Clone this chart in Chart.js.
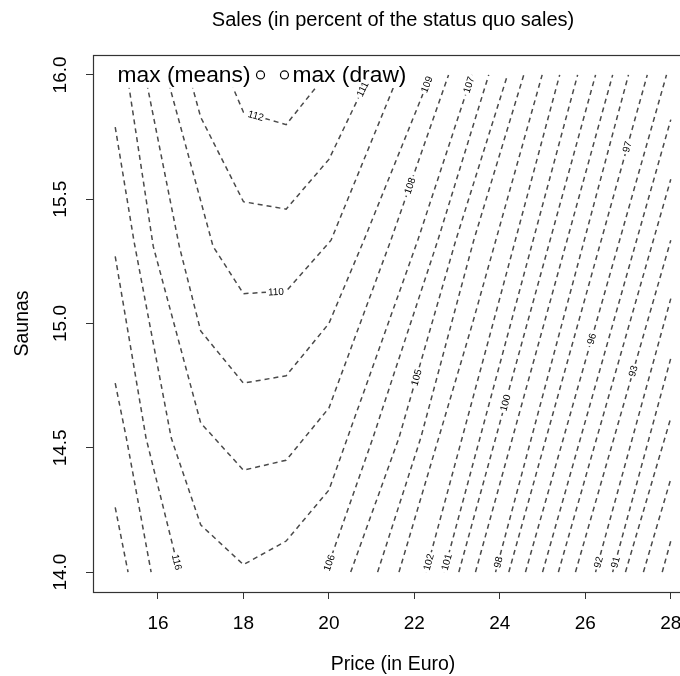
<!DOCTYPE html>
<html lang="en">
<head>
<meta charset="UTF-8">
<title>Sales contour</title>
<script src="https://cdn.jsdelivr.net/npm/chart.js@4.4.1/dist/chart.umd.min.js"></script>
<style>
  html, body { margin: 0; padding: 0; background: #fff; overflow: hidden; }
  #wrap { width: 720px; height: 676px; }
</style>
</head>
<body>
<div id="wrap"><canvas id="contour" width="720" height="676"></canvas></div>
<script>
// axis ticks
const priceTicks = [16, 18, 20, 22, 24, 26, 28];
const saunaTicks = [14.0, 14.5, 15.0, 15.5, 16.0];

// contour lines: price (x) / saunas (y) along each line
const x112 = [17.63, 18, 19, 19.93];
const y112 = [16, 15.85, 15.80, 16];
const x111 = [16.73, 17, 18, 19, 20, 20.95];
const y111 = [16, 15.83, 15.49, 15.46, 15.66, 16];
const x110 = [16.2, 17.29, 18, 19, 20.05, 21.63];
const y110 = [16, 15.31, 15.12, 15.13, 15.335, 16];
const x109 = [15.7, 16.5, 17, 18, 19, 20, 20.82, 22.38];
const y109 = [16, 15.31, 14.97, 14.76, 14.79, 15.0, 15.335, 16];
const x108 = [15.28, 15.89, 17, 18, 19, 20, 21.45, 22.8];
const y108 = [16, 15.31, 14.6, 14.41, 14.45, 14.66, 15.335, 16];
const x107 = [15, 15.44, 16.31, 17, 18, 19, 20, 22.08, 23.35];
const y107 = [15.79, 15.33, 14.54, 14.19, 14.03, 14.125, 14.33, 15.335, 16];
const x106a = [15, 15.72, 16.5];
const y106a = [15.27, 14.54, 14];
const x106b = [19.93, 21.03, 22.55, 23.74];
const y106b = [14, 14.54, 15.335, 16];
const x105a = [15, 15.26, 15.84];
const y105a = [14.76, 14.54, 14];
const x105b = [20.51, 21.64, 22.97, 24.18];
const y105b = [14, 14.54, 15.335, 16];
const x104a = [15, 15.3];
const y104a = [14.26, 14];
const x104b = [21.14, 22.15, 23.39, 24.56];
const y104b = [14, 14.54, 15.335, 16];
const x103 = [21.64, 23.36, 24.99];
const y103 = [14, 15, 16];
const x102 = [22.27, 23.84, 25.4];
const y102 = [14, 15, 16];
const x101 = [22.69, 25.82];
const x100 = [23.04, 26.24];
const x99 = [23.43, 26.64];
const x98 = [23.9, 27.01];
const x97 = [24.21, 27.45];
const x96 = [24.6, 27.9];
const yFull = [14, 16];
const x95 = [25.0, 28];
const y95 = [14, 15.82];
const x94 = [25.37, 28];
const y94 = [14, 15.58];
const x93 = [25.77, 28];
const y93 = [14, 15.335];
const x92 = [26.24, 28];
const y92 = [14, 15.1];
const x91 = [26.64, 28];
const y91 = [14, 14.86];
const x90 = [26.94, 28];
const y90 = [14, 14.62];
const x89 = [27.36, 28];
const y89 = [14, 14.375];
const x88 = [27.8, 28];
const y88 = [14, 14.125];

// contour labels and roughly where they sit
const labelText = ['112', '111', '110', '109', '108', '107', '106', '105', '102', '101', '100', '98', '97', '96', '93', '92', '91', '116'];
const labelX = [18.29, 20.82, 18.76, 22.31, 21.95, 23.27, 19.97, 22.1, 22.33, 22.75, 24.14, 23.96, 26.99, 26.12, 27.1, 26.3, 26.7, 16.45];
const labelY = [15.835, 15.94, 15.128, 15.96, 15.55, 15.96, 14.04, 14.78, 14.04, 14.04, 14.68, 14.04, 15.71, 14.94, 14.81, 14.04, 14.04, 14.04];

// the two maxima marked at the top
const maxPrice = [18.4, 18.96];
const maxSaunas = [16, 16];
const maxText = ['max (means)', 'max (draw)'];

const branches = [
  [x112, y112], [x111, y111], [x110, y110], [x109, y109], [x108, y108], [x107, y107],
  [x106a, y106a], [x106b, y106b], [x105a, y105a], [x105b, y105b], [x104a, y104a], [x104b, y104b],
  [x103, y103], [x102, y102], [x101, yFull], [x100, yFull], [x99, yFull], [x98, yFull],
  [x97, yFull], [x96, yFull], [x95, y95], [x94, y94], [x93, y93], [x92, y92],
  [x91, y91], [x90, y90], [x89, y89], [x88, y88]
];

const FONT = "'Liberation Sans', Arial, Helvetica, sans-serif";
const lineGrey = '#4a4a4a';

const datasets = [{
  data: maxPrice.map((x, i) => ({ x: x, y: maxSaunas[i] })),
  pointStyle: 'circle',
  pointRadius: 4,
  pointBorderWidth: 1.2,
  pointBorderColor: '#000',
  pointBackgroundColor: 'rgba(0,0,0,0)',
  showLine: false
}];
branches.forEach(b => {
  datasets.push({
    data: b[0].map((x, i) => ({ x: x, y: b[1][i] })),
    showLine: true,
    borderColor: lineGrey,
    borderWidth: 1.5,
    borderDash: [5, 4],
    pointRadius: 0,
    fill: false,
    tension: 0
  });
});

// R style extras: box, rotated y tick labels, legend box, contour labels
const rStyle = {
  id: 'rStyle',
  beforeDatasetDraw(chart, args) {
    if (args.index !== 0) return;
    const { ctx, scales } = chart;
    const ya = scales.y.getPixelForValue(maxSaunas[0]);
    const p1 = scales.x.getPixelForValue(maxPrice[0]);
    const p2 = scales.x.getPixelForValue(maxPrice[1]);
    ctx.save();
    ctx.font = '22.8px ' + FONT;
    const left = p1 - 10 - ctx.measureText(maxText[0]).width - 3;
    const right = p2 + 8 + ctx.measureText(maxText[1]).width + 3;
    ctx.fillStyle = '#fff';
    ctx.fillRect(left, chart.chartArea.top + 1, right - left, ya + 13 - chart.chartArea.top - 1);
    ctx.restore();
  },
  afterDatasetsDraw(chart) {
    const { ctx, scales } = chart;
    const xs = scales.x, ys = scales.y;
    // legend texts
    ctx.save();
    ctx.font = '22.8px ' + FONT;
    ctx.fillStyle = '#000';
    ctx.textBaseline = 'middle';
    const ya = ys.getPixelForValue(maxSaunas[0]) + 1;
    ctx.textAlign = 'right';
    ctx.fillText(maxText[0], xs.getPixelForValue(maxPrice[0]) - 10, ya);
    ctx.textAlign = 'left';
    ctx.fillText(maxText[1], xs.getPixelForValue(maxPrice[1]) + 8, ya);
    ctx.restore();

    // contour labels, snapped on the nearest line and turned along it
    const segs = [];
    branches.forEach(b => {
      for (let i = 0; i < b[0].length - 1; i++) {
        segs.push([xs.getPixelForValue(b[0][i]), ys.getPixelForValue(b[1][i]),
                   xs.getPixelForValue(b[0][i + 1]), ys.getPixelForValue(b[1][i + 1])]);
      }
    });
    ctx.save();
    ctx.font = '10px ' + FONT;
    ctx.textAlign = 'center';
    ctx.textBaseline = 'middle';
    labelText.forEach((t, k) => {
      const px = xs.getPixelForValue(labelX[k]);
      const py = ys.getPixelForValue(labelY[k]);
      let best = null, bestD = Infinity;
      segs.forEach(s => {
        const dx = s[2] - s[0], dy = s[3] - s[1];
        let u = ((px - s[0]) * dx + (py - s[1]) * dy) / (dx * dx + dy * dy);
        u = Math.max(0, Math.min(1, u));
        const qx = s[0] + u * dx, qy = s[1] + u * dy;
        const d = Math.hypot(px - qx, py - qy);
        if (d < bestD) { bestD = d; best = { qx, qy, dx, dy }; }
      });
      let ang = Math.atan2(best.dy, best.dx);
      if (ang > Math.PI / 2) ang -= Math.PI;
      if (ang < -Math.PI / 2) ang += Math.PI;
      const w = ctx.measureText(t).width;
      ctx.save();
      ctx.translate(best.qx, best.qy);
      ctx.rotate(ang);
      ctx.fillStyle = '#fff';
      ctx.fillRect(-w / 2 - 2, -4, w + 4, 8);
      ctx.fillStyle = '#000';
      ctx.fillText(t, 0, 0.5);
      ctx.restore();
    });
    ctx.restore();
  },
  afterDraw(chart) {
    const { ctx, chartArea, scales } = chart;
    ctx.save();
    ctx.strokeStyle = '#333';
    ctx.lineWidth = 1.2;
    ctx.strokeRect(chartArea.left + 0.5, chartArea.top + 0.5, chartArea.right - chartArea.left, chartArea.bottom - chartArea.top);
    ctx.fillStyle = '#000';
    ctx.font = '19px ' + FONT;
    ctx.textAlign = 'center';
    ctx.textBaseline = 'middle';
    saunaTicks.forEach(v => {
      ctx.save();
      ctx.translate(chartArea.left - 32, scales.y.getPixelForValue(v));
      ctx.rotate(-Math.PI / 2);
      ctx.fillText(v.toFixed(1), 0, 0);
      ctx.restore();
    });
    ctx.restore();
  }
};

new Chart(document.getElementById('contour'), {
  type: 'scatter',
  data: { datasets: datasets },
  options: {
    responsive: false,
    animation: false,
    layout: { padding: { top: 0, right: 27, bottom: 0, left: 0 } },
    plugins: {
      legend: { display: false },
      tooltip: { enabled: false },
      title: {
        display: true,
        fullSize: false,
        text: 'Sales (in percent of the status quo sales)',
        color: '#000',
        font: { family: FONT, size: 20, weight: 'normal' },
        padding: { top: 8, bottom: 23 }
      }
    },
    scales: {
      x: {
        type: 'linear',
        position: 'bottom',
        min: 14.48,
        max: 28.52,
        afterBuildTicks: s => { s.ticks = priceTicks.map(v => ({ value: v })); },
        afterFit: s => { s.height = 84; },
        grid: { drawOnChartArea: false, drawTicks: true, tickLength: 7, color: '#333' },
        border: { display: false },
        ticks: {
          color: '#000',
          font: { family: FONT, size: 19 },
          padding: 13,
          maxRotation: 0,
          autoSkip: false,
          callback: v => String(v)
        },
        title: {
          display: true,
          text: 'Price (in Euro)',
          color: '#000',
          font: { family: FONT, size: 19.5 },
          padding: { top: 0, bottom: 0 }
        }
      },
      y: {
        type: 'linear',
        position: 'left',
        min: 13.92,
        max: 16.08,
        afterBuildTicks: s => { s.ticks = saunaTicks.map(v => ({ value: v })); },
        afterFit: s => { s.width = 93; },
        grid: { drawOnChartArea: false, drawTicks: true, tickLength: 7, color: '#333' },
        border: { display: false },
        ticks: { display: false },
        title: {
          display: true,
          text: 'Saunas',
          color: '#000',
          font: { family: FONT, size: 19.5 },
          padding: { top: 11, bottom: 0 }
        }
      }
    }
  },
  plugins: [rStyle]
});
</script>
</body>
</html>
